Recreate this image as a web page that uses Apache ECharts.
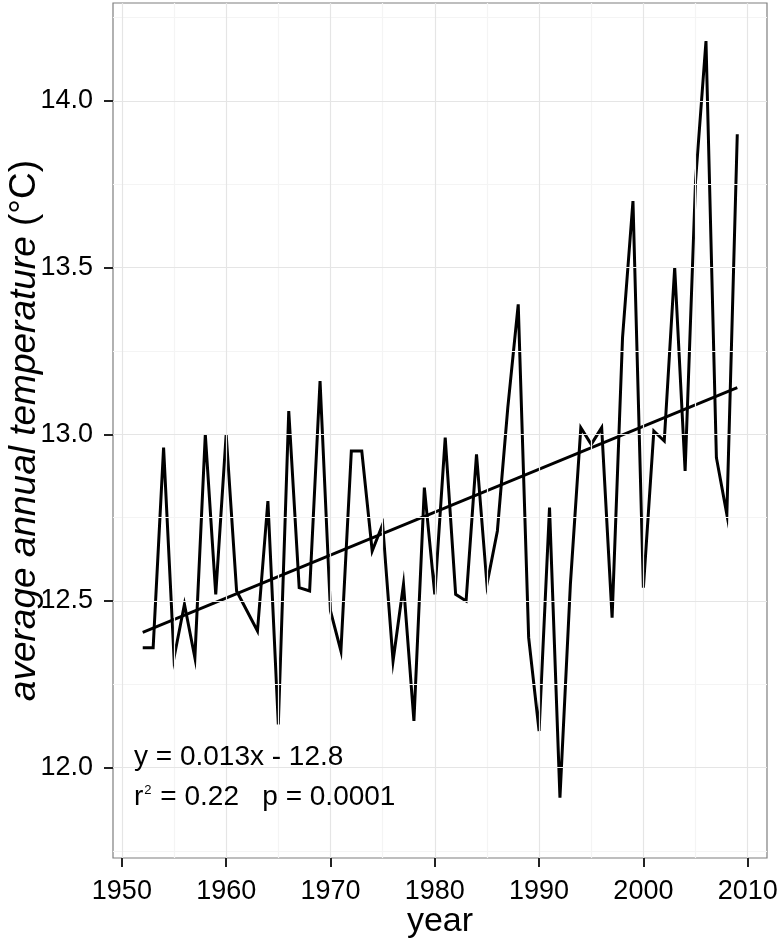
<!DOCTYPE html>
<html>
<head>
<meta charset="utf-8">
<script src="https://cdn.jsdelivr.net/npm/echarts@6/dist/echarts.min.js"></script>
<style>
html,body{margin:0;padding:0;background:#fff;}
#chart{width:783px;height:942px;}
</style>
</head>
<body>
<div id="chart"></div>
<script>
var years = [1952,1953,1954,1955,1956,1957,1958,1959,1960,1961,1962,1963,1964,1965,1966,1967,1968,1969,1970,1971,1972,1973,1974,1975,1976,1977,1978,1979,1980,1981,1982,1983,1984,1985,1986,1987,1988,1989,1990,1991,1992,1993,1994,1995,1996,1997,1998,1999,2000,2001,2002,2003,2004,2005,2006,2007,2008,2009];
var temps = [12.36,12.36,12.96,12.33,12.49,12.33,13.00,12.52,13.00,12.53,12.47,12.41,12.80,12.13,13.07,12.54,12.53,13.16,12.47,12.35,12.95,12.95,12.65,12.73,12.32,12.55,12.14,12.84,12.52,12.99,12.52,12.50,12.94,12.55,12.71,13.08,13.39,12.39,12.11,12.78,11.91,12.55,13.02,12.97,13.02,12.45,13.29,13.70,12.54,13.01,12.98,13.50,12.89,13.76,14.18,12.93,12.76,13.90];
var trendYears = [1952, 2009];
var trendValues = [12.406, 13.140];
var xTicks = [1950,1960,1970,1980,1990,2000,2010];
var xMinor = [1955,1965,1975,1985,1995,2005];
var yTicks = [12.0,12.5,13.0,13.5,14.0];
var yMinor = [11.75,12.25,12.75,13.25,13.75,14.25];
var eqText = 'y = 0.013x - 12.8';
var statR = '0.22';
var statP = '0.0001';

var FONT = '"Liberation Sans", Arial, Helvetica, sans-serif';

function vLines(vals, color) {
  return vals.map(function (v) { return { xAxis: v, lineStyle: { color: color } }; });
}
function hLines(vals, color) {
  return vals.map(function (v) { return { yAxis: v, lineStyle: { color: color } }; });
}

var chart = echarts.init(document.getElementById('chart'), null, { renderer: 'canvas' });
var option = {
  animation: false,
  backgroundColor: '#ffffff',
  grid: {
    left: 113, right: 16, top: 3, bottom: 84,
    show: true, borderColor: '#7f7f7f', borderWidth: 1.2, backgroundColor: '#ffffff',
    containLabel: false, outerBoundsMode: 'none'
  },
  xAxis: {
    type: 'value',
    min: 1949.15, max: 2011.85,
    name: 'year', nameLocation: 'middle', nameGap: 47, nameMoveOverlap: false,
    nameTextStyle: { fontFamily: FONT, fontSize: 34, color: '#000' },
    axisLine: { show: false },
    axisTick: { show: true, length: 9, inside: false, lineStyle: { color: '#222', width: 2 }, customValues: xTicks },
    axisLabel: { show: true, margin: 20, fontFamily: FONT, fontSize: 27, color: '#000', customValues: xTicks, formatter: function (v) { return String(v); } },
    splitLine: { show: false },
    minorSplitLine: { show: false }
  },
  yAxis: {
    type: 'value',
    min: 11.729, max: 14.294,
    name: '{i|average annual temperature} {n|(°C)}', nameLocation: 'middle', nameGap: 70, nameMoveOverlap: false,
    nameRotate: 90,
    nameTextStyle: {
      fontFamily: FONT, fontSize: 37, color: '#000',
      rich: {
        i: { fontFamily: FONT, fontSize: 37, fontStyle: 'italic', color: '#000' },
        n: { fontFamily: FONT, fontSize: 37, color: '#000' }
      }
    },
    axisLine: { show: false },
    axisTick: { show: true, length: 9, inside: false, lineStyle: { color: '#222', width: 2 }, customValues: yTicks },
    axisLabel: { show: true, margin: 20, fontFamily: FONT, fontSize: 27, color: '#000', customValues: yTicks, formatter: function (v) { return v.toFixed(1); } },
    splitLine: { show: false },
    minorSplitLine: { show: false }
  },
  graphic: [
    {
      type: 'text', left: 134, top: 743, z: 10,
      style: { text: eqText, font: '28px ' + FONT, fill: '#000' }
    },
    {
      type: 'text', left: 134, top: 783, z: 10,
      style: {
        text: '{a|r}{s|2}{a| = ' + statR + '   p = ' + statP + '}',
        rich: {
          a: { font: '28px ' + FONT, fill: '#000', height: 32 },
          s: { font: '13px ' + FONT, fill: '#000', verticalAlign: 'top', height: 32, padding: [0, 1, 14, 1] }
        }
      }
    }
  ],
  series: [
    {
      type: 'line', z: 1, silent: true, data: [],
      markLine: {
        silent: true, symbol: ['none', 'none'], label: { show: false }, animation: false,
        lineStyle: { type: 'solid', width: 1.2 },
        data: vLines(xMinor, '#f4f4f4').concat(hLines(yMinor, '#f4f4f4')).concat(vLines(xTicks, '#e5e5e5')).concat(hLines(yTicks, '#e5e5e5'))
      }
    },
    {
      type: 'line', z: 3, showSymbol: false, symbol: 'none', silent: true,
      lineStyle: { color: '#000', width: 3, join: 'miter' },
      data: years.map(function (y, i) { return [y, temps[i]]; })
    },
    {
      type: 'line', z: 3, showSymbol: false, symbol: 'none', silent: true,
      lineStyle: { color: '#000', width: 2.8 },
      data: trendYears.map(function (y, i) { return [y, trendValues[i]]; })
    }
  ]
};
chart.setOption(option);
</script>
</body>
</html>
